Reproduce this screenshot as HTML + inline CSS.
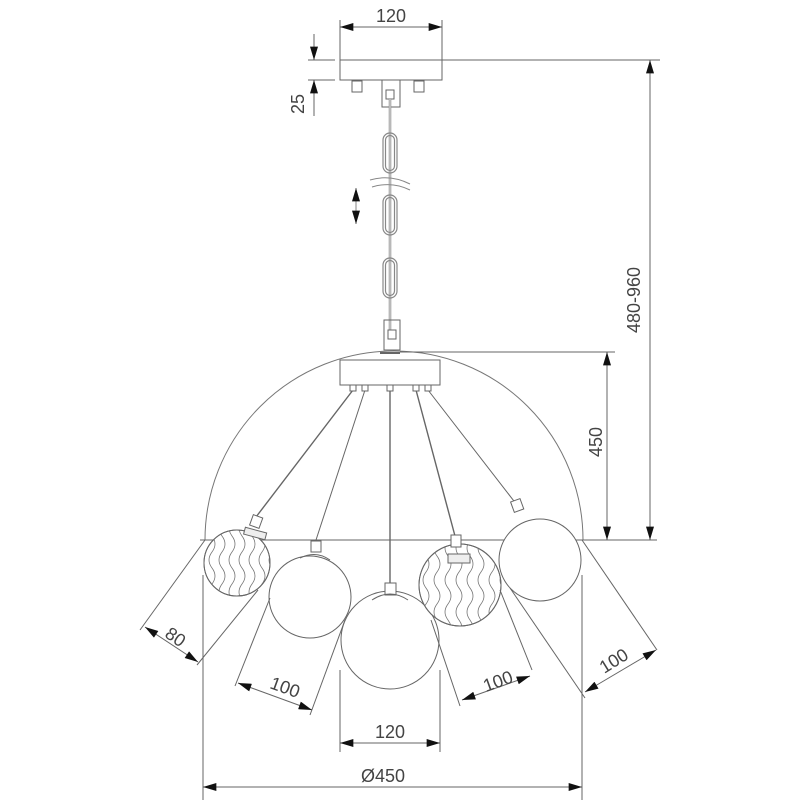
<!DOCTYPE html>
<html><head><style>html,body{margin:0;padding:0;background:#fff}svg{display:block}text{font-family:"Liberation Sans","DejaVu Sans",sans-serif;fill:#444;font-size:18px}</style></head>
<body>
<svg width="800" height="800" viewBox="0 0 800 800" xmlns="http://www.w3.org/2000/svg">
<defs>
<marker id="a" viewBox="0 0 10 6" refX="10" refY="3" markerWidth="14" markerHeight="8" markerUnits="userSpaceOnUse" orient="auto-start-reverse"><path d="M0,0L10,3L0,6z" fill="#111"/></marker>
<clipPath id="c1"><circle cx="237" cy="563" r="33"/></clipPath>
<clipPath id="c2"><circle cx="460" cy="585" r="41"/></clipPath>
<path id="w" d="M0 0 q-6 8 0 16 t0 16 t0 16 t0 16 t0 16 t0 16 t0 16"/>
</defs>
<g stroke="#666" stroke-width="1" fill="none">
<line x1="340" y1="20" x2="340" y2="60"/><line x1="442" y1="20" x2="442" y2="60"/>
<line x1="340" y1="27" x2="442" y2="27" marker-start="url(#a)" marker-end="url(#a)"/>
<line x1="308" y1="60" x2="335" y2="60"/><line x1="308" y1="80" x2="335" y2="80"/>
<line x1="314" y1="34" x2="314" y2="60" marker-end="url(#a)"/>
<line x1="314" y1="116" x2="314" y2="80" marker-end="url(#a)"/>
<rect x="340" y="60" width="102" height="20" fill="#fff"/>
<rect x="352" y="81" width="10" height="11"/><rect x="414" y="81" width="10" height="11"/>
<rect x="382" y="80" width="18" height="27"/><rect x="386" y="90" width="8" height="9"/>
<line x1="390" y1="99" x2="390" y2="330" stroke="#888" stroke-width="2.5"/>
<line x1="390" y1="99" x2="390" y2="330" stroke="#fff" stroke-width="0.8"/>
<g stroke="#888" stroke-width="1.2">
<rect x="383" y="133" width="14" height="40" rx="7"/><rect x="385.5" y="135.5" width="9" height="35" rx="4.5"/>
<rect x="383" y="195" width="14" height="40" rx="7"/><rect x="385.5" y="197.5" width="9" height="35" rx="4.5"/>
<rect x="383" y="258" width="14" height="40" rx="7"/><rect x="385.5" y="260.5" width="9" height="35" rx="4.5"/>
</g>
<path d="M370 180 Q390 174 410 184 M372 187 Q392 181 410 190" stroke="#888"/>
<path d="M356 188v36" marker-start="url(#a)" marker-end="url(#a)" stroke-width="0.8"/>
<rect x="384" y="320" width="16" height="30"/><rect x="388" y="330" width="8" height="9"/>
<path d="M205 540 A189 189 0 0 1 583 540" stroke="#777"/>
<line x1="200" y1="540" x2="657" y2="540"/>
<rect x="340" y="360" width="100" height="25" fill="#fff"/>
<line x1="380" y1="353" x2="400" y2="353" stroke-width="2"/>
<line x1="442" y1="60" x2="660" y2="60"/><line x1="400" y1="352" x2="615" y2="352"/>
<line x1="650" y1="60" x2="650" y2="540" marker-start="url(#a)" marker-end="url(#a)"/>
<line x1="607" y1="352" x2="607" y2="540" marker-start="url(#a)" marker-end="url(#a)"/>
<line x1="353" y1="390" x2="256" y2="517" stroke-width="1.4"/>
<line x1="365" y1="390" x2="316" y2="540"/>
<line x1="390" y1="390" x2="390" y2="588" stroke-width="1.4"/>
<line x1="416" y1="390" x2="455" y2="536" stroke-width="1.4"/>
<line x1="428" y1="390" x2="517" y2="505"/>
<g fill="#fff"><rect x="350" y="385" width="6" height="6"/><rect x="362" y="385" width="6" height="6"/><rect x="387" y="385" width="6" height="6"/><rect x="413" y="385" width="6" height="6"/><rect x="425" y="385" width="6" height="6"/></g>
<circle cx="237" cy="563" r="33" fill="#fff"/>
<g clip-path="url(#c1)" stroke-width="0.8" stroke="#777">
<use href="#w" x="212" y="520"/><use href="#w" x="222" y="520"/><use href="#w" x="232" y="520"/><use href="#w" x="242" y="520"/><use href="#w" x="252" y="520"/><use href="#w" x="262" y="520"/><use href="#w" x="272" y="520"/>
</g>
<circle cx="237" cy="563" r="33"/>
<rect x="251" y="516" width="10" height="11" transform="rotate(20 256 522)" fill="#fff"/>
<rect x="244" y="530" width="22" height="7" transform="rotate(15 255 534)" fill="#eee"/>
<circle cx="310" cy="597" r="41" fill="#fff"/>
<rect x="311" y="541" width="10" height="11" fill="#fff"/>
<path d="M300 558 Q316 550 330 560"/>
<circle cx="390" cy="640" r="49" fill="#fff"/>
<rect x="385" y="583" width="11" height="12" fill="#fff"/>
<path d="M372 600 Q390 588 408 600"/>
<circle cx="460" cy="585" r="41" fill="#fff"/>
<g clip-path="url(#c2)" stroke-width="0.8" stroke="#777">
<use href="#w" x="426" y="540"/><use href="#w" x="437" y="540"/><use href="#w" x="448" y="540"/><use href="#w" x="459" y="540"/><use href="#w" x="470" y="540"/><use href="#w" x="481" y="540"/><use href="#w" x="492" y="540"/><use href="#w" x="503" y="540"/>
</g>
<circle cx="460" cy="585" r="41"/>
<rect x="448" y="554" width="22" height="9" fill="#eee"/>
<rect x="451" y="535" width="10" height="12" fill="#fff"/>
<circle cx="540" cy="560" r="41" fill="#fff"/>
<rect x="512" y="500" width="10" height="11" transform="rotate(-20 517 505)" fill="#fff"/>
<line x1="205" y1="540" x2="140" y2="630"/><line x1="258" y1="590" x2="197" y2="665"/>
<line x1="145" y1="627" x2="198" y2="662" marker-start="url(#a)" marker-end="url(#a)"/>
<line x1="270" y1="598" x2="235" y2="686"/><line x1="345" y1="620" x2="310" y2="715"/>
<line x1="238" y1="683" x2="312" y2="710" marker-start="url(#a)" marker-end="url(#a)"/>
<line x1="340" y1="670" x2="340" y2="752"/><line x1="440" y1="670" x2="440" y2="752"/>
<line x1="340" y1="743" x2="440" y2="743" marker-start="url(#a)" marker-end="url(#a)"/>
<line x1="431" y1="620" x2="460" y2="706"/><line x1="500" y1="590" x2="532" y2="670"/>
<line x1="462" y1="700" x2="530" y2="676" marker-start="url(#a)" marker-end="url(#a)"/>
<line x1="510" y1="588" x2="585" y2="698"/><line x1="582" y1="540" x2="657" y2="650"/>
<line x1="585" y1="692" x2="656" y2="650" marker-start="url(#a)" marker-end="url(#a)"/>
<line x1="203" y1="575" x2="203" y2="800"/><line x1="582" y1="575" x2="582" y2="800"/>
<line x1="203" y1="787" x2="582" y2="787" marker-start="url(#a)" marker-end="url(#a)"/>
</g>
<text x="391" y="22" text-anchor="middle">120</text>
<text transform="translate(304,104) rotate(-90)" text-anchor="middle">25</text>
<text transform="translate(640,300) rotate(-90)" text-anchor="middle">480-960</text>
<text transform="translate(602,442) rotate(-90)" text-anchor="middle">450</text>
<text transform="translate(172,642) rotate(35)" text-anchor="middle">80</text>
<text transform="translate(283,693) rotate(20)" text-anchor="middle">100</text>
<text x="390" y="738" text-anchor="middle">120</text>
<text transform="translate(500,687) rotate(-20)" text-anchor="middle">100</text>
<text transform="translate(617,666) rotate(-32)" text-anchor="middle">100</text>
<text x="383" y="782" text-anchor="middle">Ø450</text>
</svg>
</body></html>
